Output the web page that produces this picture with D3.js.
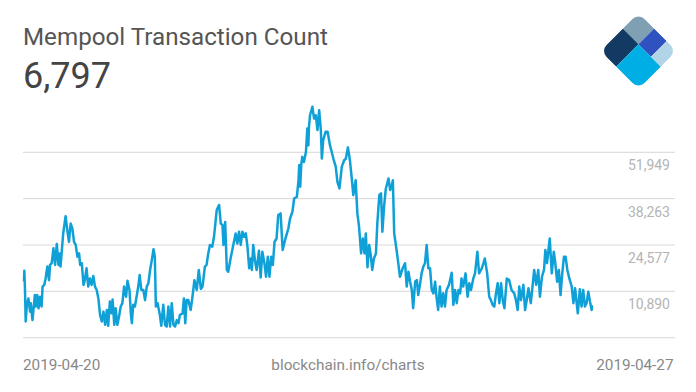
<!DOCTYPE html>
<html>
<head>
<meta charset="utf-8">
<script src="https://cdn.jsdelivr.net/npm/d3@7"></script>
<style>
  html, body { margin: 0; background: #fff; }
  svg { display: block; font-family: Roboto, sans-serif; }
</style>
</head>
<body>
<svg width="696" height="392"></svg>
<script>
// values
const title = 'Mempool Transaction Count';
const lastValue = '6,797';
const yTicks = [51949, 38263, 24577, 10890];
const yBase = -2796; // bottom rule, no label
const dateLabels = ['2019-04-20', '2019-04-27'];
const sourceLabel = 'blockchain.info/charts';

// hours since 2019-04-20 00:00
const hours = [
  0.0,0.1,0.3,0.5,0.8,1.3,1.8,2.0,2.5,2.8,
  3.2,3.5,3.9,4.3,4.7,5.2,5.5,6.0,6.4,6.9,
  7.4,7.7,8.2,8.7,9.2,9.7,10.2,10.5,10.8,11.2,
  11.6,12.3,12.8,13.3,13.8,14.3,14.8,15.3,15.8,16.3,
  16.6,17.1,17.6,18.0,18.5,19.0,19.5,20.0,20.5,21.0,
  21.5,22.0,22.5,23.0,23.5,24.0,24.5,24.9,25.4,25.9,
  26.2,26.7,27.1,27.6,28.1,28.6,29.1,29.6,30.2,30.6,
  31.2,31.6,31.9,32.3,32.8,33.3,33.8,34.2,34.7,35.3,
  35.8,36.3,36.8,37.3,37.8,38.3,38.7,39.0,39.5,40.2,
  40.6,41.2,41.7,42.2,42.7,43.2,43.7,44.2,44.7,45.2,
  45.7,46.1,46.9,47.3,47.7,48.1,48.6,49.3,49.9,50.4,
  51.1,51.7,52.3,52.8,53.5,54.0,54.5,55.0,55.7,56.2,
  57.0,57.7,58.2,58.7,59.0,59.5,60.0,60.4,61.0,61.4,
  61.9,62.6,63.1,63.6,64.1,64.6,65.1,65.6,66.1,66.6,
  67.1,67.4,67.8,68.3,68.8,69.5,70.0,70.5,71.1,71.6,
  72.1,72.6,73.1,73.6,74.1,74.7,75.2,75.9,76.5,77.2,
  78.2,78.7,79.4,79.9,80.7,81.2,81.4,81.7,82.0,82.3,
  82.8,83.4,83.8,84.1,84.3,84.6,85.3,85.8,86.3,86.8,
  87.3,87.8,88.1,88.5,89.2,89.8,90.5,91.0,91.5,92.2,
  92.7,93.3,94.0,94.7,95.2,95.8,96.4,96.9,97.4,98.1,
  98.6,99.1,99.7,100.2,100.7,101.1,101.6,102.1,102.5,103.0,
  103.5,104.1,104.5,105.1,105.6,106.0,106.5,107.0,107.8,108.3,
  108.7,109.1,109.5,110.2,110.7,111.2,112.0,112.7,113.2,113.7,
  114.2,114.7,115.1,115.7,116.2,116.6,117.1,117.6,118.1,118.6,
  119.1,119.6,120.1,120.6,121.1,121.6,122.0,122.5,123.0,123.5,
  124.0,124.5,125.0,125.7,126.5,127.0,127.5,128.0,128.5,129.0,
  129.4,129.9,130.6,131.2,131.7,132.2,132.9,133.4,134.1,134.6,
  135.4,135.9,136.3,137.0,137.6,138.1,138.6,139.1,139.6,140.1,
  140.6,141.1,141.6,142.1,142.8,143.5,144.2,145.0,145.5,146.0,
  146.5,147.0,147.7,148.2,148.7,149.2,149.9,150.4,150.9,151.5,
  152.1,152.6,153.2,153.8,154.2,154.7,155.5,156.1,156.7,157.1,
  157.7,158.2,158.7,159.2,159.7,160.2,160.7,161.3,162.0,162.5,
  163.0,163.8,164.4,164.9,165.4,165.9,166.4,166.9,167.4,167.9,
  168.0
];

// transaction count, thousands
const countsK = [
  13.8,17.0,11.3,2.0,6.4,8.8,4.9,7.4,2.4,5.4,
  9.8,6.4,9.8,5.9,9.3,6.4,12.3,12.8,14.7,18.2,
  14.2,18.7,19.2,23.6,18.7,24.9,18.7,22.1,18.2,23.1,
  28.0,33.1,29.0,25.5,30.9,29.5,25.5,24.6,21.1,22.1,
  18.7,19.2,12.8,14.2,17.7,12.3,14.7,12.8,15.4,12.3,
  11.3,8.8,3.9,2.0,4.9,1.0,5.4,0.7,7.9,4.4,
  8.5,1.0,5.9,1.0,3.4,6.4,7.4,12.3,9.3,14.0,
  11.3,4.4,1.5,6.9,6.4,9.3,12.3,15.7,11.3,11.3,
  8.3,12.3,13.3,17.2,20.1,23.3,21.1,6.4,7.4,3.9,
  0.7,6.9,1.0,0.5,6.4,0.5,7.4,1.0,0.5,2.4,
  1.5,3.9,4.4,8.8,1.5,8.3,8.3,5.4,9.8,14.2,
  11.3,17.2,11.6,12.3,18.2,18.7,22.1,24.6,24.1,27.0,
  34.9,36.4,30.9,30.5,24.6,31.4,17.2,16.7,20.1,22.1,
  24.6,28.0,25.0,28.5,24.6,28.5,27.0,28.0,24.1,17.7,
  20.6,17.2,24.6,20.1,17.2,22.9,15.0,22.6,19.2,15.2,
  21.1,15.2,21.1,18.7,25.5,26.5,33.4,33.9,23.1,26.0,
  29.5,32.4,34.4,38.3,38.8,43.7,48.2,41.8,48.2,50.6,
  49.1,52.1,59.0,54.0,59.5,62.9,65.4,61.9,62.9,58.5,
  64.4,58.5,50.1,55.5,58.0,58.0,54.0,52.1,50.1,47.7,
  43.2,41.3,47.7,49.6,50.1,53.4,49.6,44.7,39.3,43.7,
  33.9,30.0,22.1,26.5,22.1,28.0,18.0,24.6,22.1,17.2,
  20.6,22.1,30.9,39.3,39.8,28.5,35.9,41.1,44.2,40.8,
  41.8,43.7,28.0,23.1,19.2,15.2,17.7,19.2,12.3,16.7,
  13.8,11.3,5.9,13.8,14.2,9.8,12.8,16.2,18.2,19.2,
  24.6,17.7,17.7,11.3,10.3,13.7,9.3,5.4,12.3,6.4,
  10.3,6.4,11.3,12.8,16.4,6.9,11.3,7.4,11.3,10.3,
  14.7,12.3,16.2,9.3,13.3,11.3,14.7,16.2,22.6,16.2,
  17.7,19.2,20.6,16.2,9.3,8.3,6.9,6.4,10.3,13.3,
  7.4,13.3,8.3,5.9,14.7,14.2,11.3,10.3,8.3,5.4,
  12.3,8.3,12.8,5.4,8.3,11.8,7.4,12.3,17.2,12.8,
  17.2,9.3,15.2,17.2,23.1,19.2,26.5,16.2,22.6,19.6,
  13.7,17.2,9.8,16.2,21.1,21.1,17.2,14.7,12.3,7.4,
  11.8,4.4,11.5,6.4,11.3,6.4,7.4,10.8,7.9,5.4,
  6.8
];

const data = hours.map((h, i) => ({ hour: h, count: countsK[i] * 1000 }));

const svg = d3.select('svg');

const xScale = d3.scaleLinear().domain([0, 168]).range([24, 592]);
const yScale = d3.scaleLinear().domain([yBase, yTicks[0]]).range([337.7, 152.3]);

// grid lines, labels sit just under each line
svg.append('g')
  .selectAll('line')
  .data(yTicks.concat([yBase]))
  .enter().append('line')
  .attr('x1', 23)
  .attr('x2', 675)
  .attr('y1', d => yScale(d))
  .attr('y2', d => yScale(d))
  .attr('stroke', '#d8d8d8')
  .attr('stroke-width', 1);

svg.append('g')
  .selectAll('text')
  .data(yTicks)
  .enter().append('text')
  .attr('x', 670)
  .attr('y', d => yScale(d) + 18)
  .attr('text-anchor', 'end')
  .attr('font-size', 14)
  .attr('fill', '#b4b4b4')
  .text(d3.format(','));

const lineGenerator = d3.line()
  .x(d => xScale(d.hour))
  .y(d => yScale(d.count));

svg.append('path')
  .attr('d', lineGenerator(data))
  .attr('fill', 'none')
  .attr('stroke', '#10a0d8')
  .attr('stroke-width', 2.5)
  .attr('stroke-linejoin', 'round');

// header
svg.append('text')
  .attr('x', 23).attr('y', 45)
  .attr('font-size', 24.2).attr('fill', '#555')
  .text(title);

svg.append('text')
  .attr('x', 23).attr('y', 88)
  .attr('font-size', 36).attr('fill', '#444')
  .text(lastValue);

// footer
svg.append('text')
  .attr('x', 23).attr('y', 370)
  .attr('font-size', 15.3).attr('fill', '#888')
  .text(dateLabels[0]);

svg.append('text')
  .attr('x', 348).attr('y', 370)
  .attr('text-anchor', 'middle')
  .attr('font-size', 15.3).attr('fill', '#888')
  .text(sourceLabel);

svg.append('text')
  .attr('x', 673.5).attr('y', 370)
  .attr('text-anchor', 'end')
  .attr('font-size', 15.3).attr('fill', '#888')
  .text(dateLabels[1]);

// logo, a rounded square turned 45 degrees
const logo = svg.append('g').attr('transform', 'translate(638.5,51) rotate(45)');

svg.append('clipPath').attr('id', 'logo-clip')
  .append('rect')
  .attr('x', -27).attr('y', -27)
  .attr('width', 54).attr('height', 54)
  .attr('rx', 9);

const logoG = logo.append('g').attr('clip-path', 'url(#logo-clip)');
const block = (x0, y0, x1, y1, color) => logoG.append('rect')
  .attr('x', x0).attr('y', y0)
  .attr('width', x1 - x0).attr('height', y1 - y0)
  .attr('fill', color);

block(-27, -27, -4.7, -4.7, '#7f9fb3');
block(-27, -4.7, -4.7, 27, '#123a63');
block(-4.7, -4.7, 27, 27, '#00aee6');
block(-4.7, -27, 13, -4.7, '#2f52c0');
block(13, -27, 27, -4.7, '#b1d5e7');
</script>
</body>
</html>
